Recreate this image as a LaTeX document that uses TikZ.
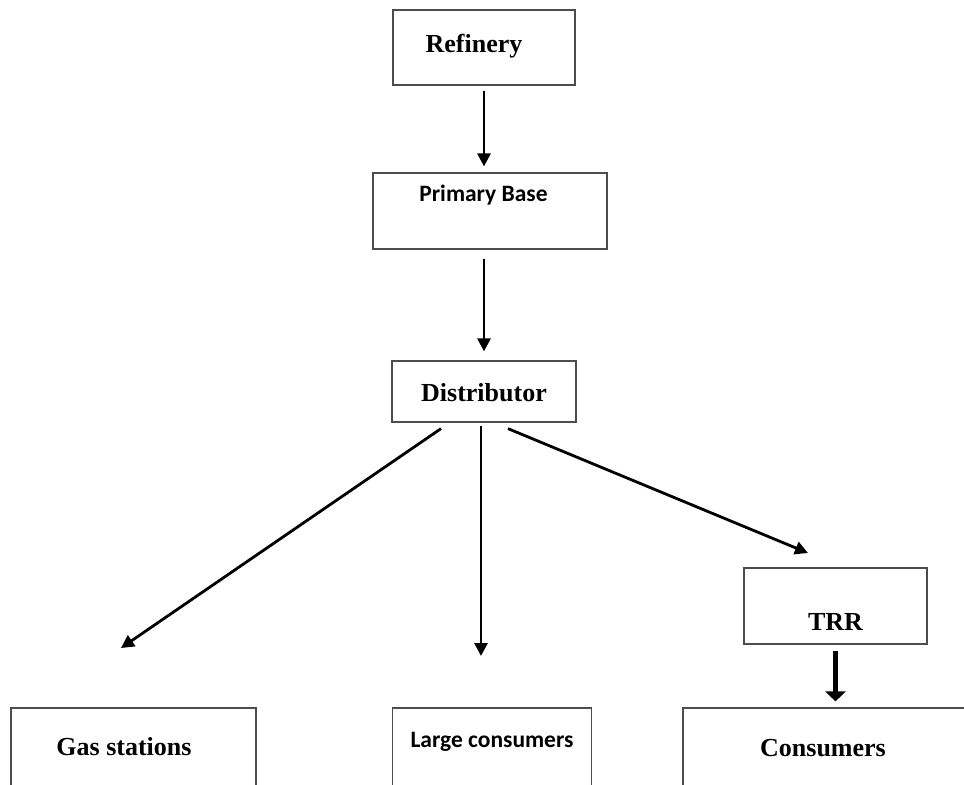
\documentclass[tikz,border=0pt]{standalone}
\usepackage{fontspec}
\setmainfont{Liberation Serif}
\newfontfamily\calib{Carlito}
\usetikzlibrary{arrows.meta}
\tikzset{
	box/.append style={
		draw=black!70,
		line width=0.6pt,
		inner sep=0pt,
	},
	serifbox/.append style={
		box,
		font={\fontsize{13}{15}\selectfont\bfseries}
	},
	sansbox/.append style={
		box,
		font={\calib\fontsize{11.75}{14}\selectfont\bfseries}
	},
	arr/.append style={
		-{Triangle[width=6.5pt,length=6.5pt]},
		line width=1.4pt,
	},
	arrthick/.append style={
		-{Triangle[width=10pt,length=5pt]},
		line width=2.4pt,
	}
}

\begin{document}
\begin{tikzpicture}[x=0.5pt, y=-0.5pt]
		\clip (0,0) rectangle (964,784);
		\fill[white] (0,0) rectangle (964,784);
		
		\node(refinery)[serifbox, minimum width=91pt, text height=21pt, text depth=16.5pt] at (484,47.5) {Refinery\hspace*{10pt}};
		\node(primary)[sansbox, minimum width=117pt, text height=14.35pt, text depth=23.65pt] at (490,211) {Primary Base\hspace*{6.5pt}};
		\node(distributor)[serifbox, minimum width=92pt, text height=20.35pt, text depth=10.15pt] at (484,391.5) {Distributor};
		\node(trr)[serifbox, minimum width=91.5pt, text height=31.35pt, text depth=6.65pt] at (835.5,606) {TRR};
		
		\node(gas)[serifbox, minimum width=122.5pt, text height=23.5pt, text depth=31.5pt] at (133.5,763) {Gas stations\hspace*{9.5pt}};
		\node(large)[sansbox, minimum width=99.5pt, text height=19.85pt, text depth=35.15pt] at (492,763) {Large consumers};
		\node(consumers)[serifbox, minimum width=146pt, text height=24.35pt, text depth=30.65pt] at (829,763) {Consumers\hspace*{6pt}};
		
		\coordinate(gasend) at (121,648);
		\coordinate(largeend) at (481,656);
		\coordinate(trrend) at (808,553);
		
		\draw[arr, shorten <=2.5pt, shorten >=3pt] (refinery.south) -- (primary.north -| refinery.south);
		\draw[arr, shorten <=4.5pt, shorten >=4.5pt] (primary.south -| distributor.north) -- (distributor.north);
		
		\draw[arr] ([xshift=-21.5pt, yshift=-3pt]distributor.south) -- (gasend);
		\draw[arr] ([xshift=-1.5pt, yshift=-1.5pt]distributor.south) -- (largeend);
		\draw[arr] ([xshift=12pt, yshift=-3pt]distributor.south) -- (trrend);
		
		\draw[arrthick, shorten <=3pt, shorten >=3pt] (trr.south) -- (trr.south |- consumers.north);
		
\end{tikzpicture}
\end{document}
